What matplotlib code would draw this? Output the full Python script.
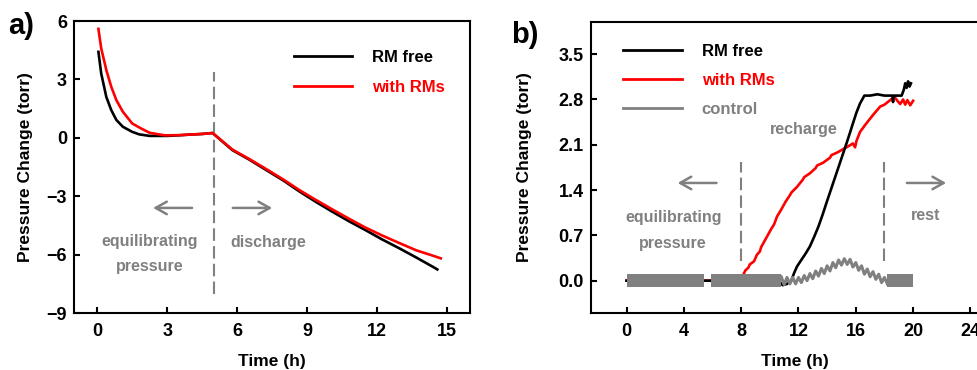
import matplotlib
matplotlib.use("Agg")
import matplotlib.pyplot as plt
from matplotlib.lines import Line2D

plt.rcParams['font.family'] = ['Liberation Sans', 'DejaVu Sans']
plt.rcParams['font.weight'] = 'bold'

GRAY = '#808080'

# ---- panel a: pressure change during rest + discharge ----
a_free_t = [0.05, 0.17, 0.39, 0.6, 0.82, 1.1, 1.5, 1.8, 2.25, 3.0, 3.5, 4.0, 4.5, 4.95,
            5.8, 6.5, 7.25, 8.0, 8.7, 9.4, 10.1, 10.8, 11.5, 12.2, 12.96, 13.7, 14.4, 14.6]
a_free_p = [4.42, 3.31, 2.1, 1.43, 0.92, 0.57, 0.31, 0.18, 0.1, 0.1, 0.13, 0.17, 0.2, 0.25,
            -0.63, -1.1, -1.65, -2.2, -2.77, -3.3, -3.8, -4.28, -4.73, -5.2, -5.67, -6.15, -6.62, -6.76]
a_rm_t = [0.05, 0.17, 0.39, 0.6, 0.82, 1.1, 1.5, 1.87, 2.25, 2.9, 3.5, 4.0, 4.5, 4.95,
          5.8, 6.5, 7.25, 8.0, 8.7, 9.4, 10.1, 10.8, 11.5, 12.2, 12.96, 13.7, 14.4, 14.75]
a_rm_p = [5.6, 4.6, 3.48, 2.63, 1.94, 1.34, 0.74, 0.49, 0.26, 0.13, 0.14, 0.17, 0.2, 0.25,
          -0.6, -1.07, -1.6, -2.15, -2.7, -3.2, -3.68, -4.15, -4.6, -5.0, -5.4, -5.78, -6.05, -6.19]
a_switch = 5.0

# ---- panel b: pressure change during recharge ----
b_free_t = [0.0, 10.6, 10.9, 11.2, 11.5, 11.7, 11.9, 12.2, 12.5, 12.8, 13.1, 13.4, 13.7, 13.95,
            14.3, 14.65, 15.0, 15.35, 15.6, 15.8, 16.05, 16.3, 16.6, 17.0, 17.5, 18.0, 18.55,
            18.6, 18.65, 19.2, 19.35, 19.45, 19.55, 19.65, 19.75, 19.85]
b_free_p = [0.0, 0.0, -0.07, -0.05, 0.0, 0.12, 0.22, 0.32, 0.42, 0.53, 0.68, 0.84, 1.03, 1.2,
            1.43, 1.66, 1.89, 2.12, 2.29, 2.43, 2.6, 2.74, 2.86, 2.86, 2.88, 2.86, 2.86,
            2.76, 2.86, 2.86, 2.95, 3.05, 2.98, 3.08, 3.0, 3.05]
b_rm_t = [0.0, 7.95, 8.3, 8.5, 8.6, 8.9, 9.1, 9.3, 9.4, 9.8, 9.9, 10.1, 10.3, 10.5, 10.8,
          10.9, 11.1, 11.4, 11.5, 11.9, 12.3, 12.4, 12.8, 13.2, 13.3, 13.7, 14.2, 14.3, 14.7,
          15.1, 15.5, 15.8, 15.95, 16.05, 16.3, 16.7, 17.2, 17.7, 18.0, 18.4, 18.7, 18.9, 19.1,
          19.3, 19.45, 19.6, 19.8, 20.0]
b_rm_p = [0.0, 0.0, 0.16, 0.20, 0.25, 0.30, 0.40, 0.45, 0.52, 0.68, 0.72, 0.80, 0.87, 0.99, 1.10,
          1.14, 1.22, 1.32, 1.36, 1.45, 1.56, 1.60, 1.66, 1.74, 1.78, 1.82, 1.90, 1.94, 1.98,
          2.03, 2.08, 2.12, 2.06, 2.16, 2.30, 2.42, 2.56, 2.69, 2.72, 2.79, 2.84, 2.78, 2.73,
          2.80, 2.72, 2.79, 2.71, 2.78]
# control cell: noisy flat stretches (envelope) and the wavy bump
b_ctrl_band = [(0.0, 5.4), (5.9, 10.8), (18.2, 20.0)]
b_ctrl_noise = 0.1
b_ctrl_t = [10.8, 11.0, 11.2, 11.4, 11.6, 11.8, 12.0, 12.2, 12.4, 12.6, 12.8, 13.0, 13.2, 13.4,
            13.6, 13.8, 14.0, 14.2, 14.4, 14.6, 14.8, 15.0, 15.2, 15.4, 15.6, 15.8, 16.0, 16.2,
            16.4, 16.6, 16.8, 17.0, 17.2, 17.4, 17.6, 17.8, 18.0, 18.2]
b_ctrl_p = [0.06, -0.06, 0.05, -0.05, 0.05, -0.05, 0.05, -0.03, 0.08, 0.0, 0.11, 0.03, 0.15, 0.07,
            0.19, 0.11, 0.23, 0.15, 0.28, 0.20, 0.32, 0.24, 0.34, 0.25, 0.33, 0.21, 0.28, 0.16,
            0.23, 0.10, 0.18, 0.06, 0.14, 0.02, 0.10, -0.03, 0.05, -0.05]
b_switch = [8.0, 18.0]

fig = plt.figure(figsize=(9.77, 3.70), dpi=100)
ax1 = fig.add_axes([0.0757, 0.154, 0.4053, 0.789])
ax2 = fig.add_axes([0.6046, 0.154, 0.418, 0.787])

for ax in (ax1, ax2):
    for s in ax.spines.values():
        s.set_linewidth(1.5)
    ax.tick_params(direction='in', length=4, width=1.5, labelsize=13, pad=5)
    ax.tick_params(axis='x', pad=7)
    ax.set_xlabel('Time (h)', fontsize=12.5, fontweight='bold', labelpad=10)
ax1.set_ylabel('Pressure Change (torr)', fontsize=12.5, fontweight='bold', labelpad=10)
ax2.set_ylabel('Pressure Change (torr)', fontsize=12.5, fontweight='bold', labelpad=19)

arrow_kw = dict(arrowstyle='->,head_length=0.8,head_width=0.45', color=GRAY, lw=1.8)
txt_kw = dict(color=GRAY, fontsize=11.5, fontweight='bold', ha='center', va='center')

# panel a
ax1.plot(a_rm_t, a_rm_p, color='red', lw=1.9, zorder=3)
ax1.plot(a_free_t, a_free_p, color='black', lw=1.9, zorder=2)
ax1.plot([a_switch, a_switch], [-8.0, 3.4], color=GRAY, lw=1.5, ls=(0, (6, 2.5)))
ax1.annotate('', xy=(2.28, -3.6), xytext=(4.19, -3.6), arrowprops=arrow_kw)
ax1.annotate('', xy=(7.63, -3.6), xytext=(5.7, -3.6), arrowprops=arrow_kw)
ax1.text(2.25, -5.33, 'equilibrating', **txt_kw)
ax1.text(2.25, -6.6, 'pressure', **txt_kw)
ax1.text(7.32, -5.38, 'discharge', **txt_kw)
ax1.set_xlim(-1, 16)
ax1.set_ylim(-9, 6)
ax1.set_xticks([0, 3, 6, 9, 12, 15])
ax1.set_yticks([-9, -6, -3, 0, 3, 6])
h1 = [Line2D([], [], color='black', lw=2), Line2D([], [], color='red', lw=2)]
leg1 = ax1.legend(h1, ['RM free', 'with RMs'], loc='upper left', bbox_to_anchor=(0.555, 0.9),
                  frameon=False, fontsize=12, handlelength=3.5, handletextpad=1.2,
                  labelspacing=0.9, borderpad=0, borderaxespad=0)
leg1.get_texts()[1].set_color('red')
fig.text(0.008, 0.93, 'a)', fontsize=21, fontweight='bold', va='center')

# panel b
ax2.plot(b_rm_t, b_rm_p, color='red', lw=1.9, zorder=2)
ax2.plot(b_free_t, b_free_p, color='black', lw=1.9, zorder=3)
for t0, t1 in b_ctrl_band:
    ax2.fill_between([t0, t1], [-b_ctrl_noise] * 2, [b_ctrl_noise] * 2, color=GRAY, lw=0, zorder=4)
ax2.plot(b_ctrl_t, b_ctrl_p, color=GRAY, lw=2.2, zorder=4)
for tx in b_switch:
    ax2.plot([tx, tx], [0.3, 1.84], color=GRAY, lw=1.5, ls=(0, (6, 2.5)))
ax2.annotate('', xy=(3.37, 1.51), xytext=(6.47, 1.51), arrowprops=arrow_kw)
ax2.annotate('', xy=(22.5, 1.51), xytext=(19.37, 1.51), arrowprops=arrow_kw)
ax2.text(3.26, 0.97, 'equilibrating', **txt_kw)
ax2.text(3.26, 0.58, 'pressure', **txt_kw)
ax2.text(12.4, 2.34, 'recharge', **txt_kw)
ax2.text(20.9, 1.0, 'rest', **txt_kw)
ax2.set_xlim(-2.5, 26)
ax2.set_ylim(-0.5, 4.0)
ax2.set_xticks([0, 4, 8, 12, 16, 20, 24])
ax2.set_yticks([0.0, 0.7, 1.4, 2.1, 2.8, 3.5])
ax2.set_yticklabels(['0.0', '0.7', '1.4', '2.1', '2.8', '3.5'])
h2 = [Line2D([], [], color='black', lw=2), Line2D([], [], color='red', lw=2),
      Line2D([], [], color=GRAY, lw=2)]
leg2 = ax2.legend(h2, ['RM free', 'with RMs', 'control'], loc='upper left',
                  bbox_to_anchor=(0.08, 0.925), frameon=False, fontsize=12, handlelength=3.5,
                  handletextpad=1.2, labelspacing=0.85, borderpad=0, borderaxespad=0)
leg2.get_texts()[1].set_color('red')
leg2.get_texts()[2].set_color(GRAY)
fig.text(0.523, 0.905, 'b)', fontsize=21, fontweight='bold', va='center')

fig.savefig('out.png', dpi=100)
